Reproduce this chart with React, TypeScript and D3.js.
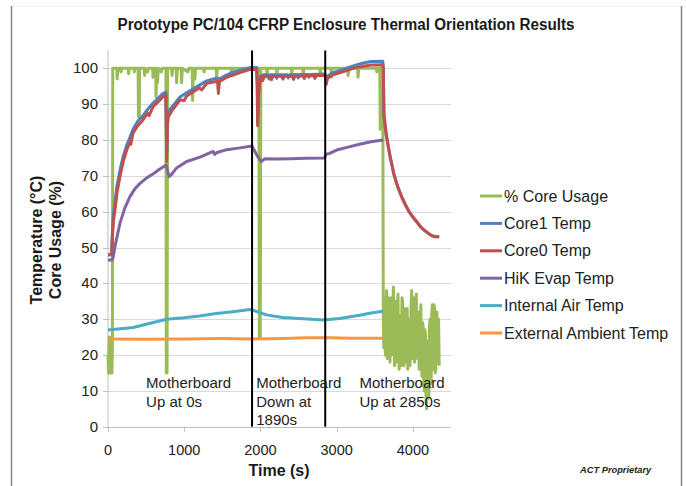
import React from "react";
import * as d3 from "d3";

type Pt = [number, number];

const chartTitle = "Prototype PC/104 CFRP Enclosure Thermal Orientation Results";
const yTitleLines = ["Temperature (°C)", "Core Usage (%)"];
const xTitle = "Time (s)";
const yTicks = [0, 10, 20, 30, 40, 50, 60, 70, 80, 90, 100];
const xTicks = [0, 1000, 2000, 3000, 4000];
const eventTimes = [1890, 2850];
const annotations = [
  { t: 500, lines: ["Motherboard", "Up at 0s"] },
  { t: 1945, lines: ["Motherboard", "Down at", "1890s"] },
  { t: 3300, lines: ["Motherboard", "Up at 2850s"] },
];

const coreUsage: Pt[] = [
  [0, 20], [8, 15], [15, 25], [22, 15], [30, 24], [38, 15], [45, 25], [52, 15], [58, 22], [62, 100],
  [115, 100], [120, 97], [130, 100], [165, 100], [170, 99], [180, 100], [265, 100], [270, 98.5], [280, 100],
  [340, 100], [345, 99], [355, 100], [395, 100], [400, 86.5], [410, 86.5], [415, 100], [475, 100], [480, 98],
  [490, 100], [520, 99], [530, 100], [585, 100], [590, 97.5], [600, 100], [625, 100], [630, 92], [640, 100],
  [650, 96], [660, 100], [700, 99], [710, 100], [760, 100], [765, 15], [775, 15], [782, 100], [835, 100],
  [840, 98], [850, 100], [895, 100], [900, 96], [910, 100], [960, 100], [965, 96], [975, 100], [1050, 99],
  [1060, 100], [1105, 100], [1110, 91], [1120, 100], [1140, 97], [1150, 100], [1255, 100], [1260, 99],
  [1270, 100], [1420, 100], [1425, 97], [1435, 100], [1615, 100], [1620, 98], [1630, 100], [1980, 100],
  [1985, 25], [1998, 25], [2005, 100], [2080, 100], [2085, 97.5], [2095, 100], [2210, 100], [2215, 98.5],
  [2225, 100], [2405, 100], [2410, 98.5], [2420, 100], [2555, 100], [2560, 98], [2570, 100], [2780, 100],
  [2785, 98], [2795, 100], [2925, 100], [2930, 97.5], [2940, 100], [3145, 100], [3150, 98], [3160, 100],
  [3275, 100], [3280, 97.5], [3290, 100], [3520, 100], [3526, 99], [3535, 100], [3565, 100], [3572, 83],
  [3580, 100], [3605, 100],
  [3612, 30], [3618, 22], [3625, 35], [3632, 24], [3640, 20], [3647, 33], [3655, 38], [3662, 19],
  [3670, 22], [3677, 36], [3685, 33], [3692, 21], [3700, 18], [3707, 31], [3715, 36], [3722, 20],
  [3730, 25], [3737, 34], [3745, 39], [3752, 24], [3760, 17], [3767, 35], [3775, 30], [3782, 18],
  [3790, 20], [3797, 32], [3805, 37], [3812, 22], [3820, 16], [3827, 31], [3835, 28], [3842, 17],
  [3850, 22], [3857, 36], [3865, 35], [3872, 19], [3880, 17], [3887, 33], [3895, 30], [3902, 18],
  [3910, 20], [3917, 31], [3925, 33], [3932, 16], [3940, 18], [3947, 30], [3955, 27], [3962, 17],
  [3970, 21], [3977, 35], [3985, 38], [3992, 20], [4000, 19], [4007, 34], [4015, 36], [4022, 18],
  [4030, 24], [4037, 35], [4045, 37], [4052, 21], [4060, 19], [4067, 32], [4075, 30], [4082, 16],
  [4090, 22], [4097, 31], [4105, 34], [4112, 18], [4120, 14], [4127, 29], [4135, 28], [4142, 12],
  [4150, 10], [4157, 27], [4165, 26], [4172, 9], [4180, 5], [4187, 24], [4195, 22], [4202, 10],
  [4210, 8], [4217, 28], [4225, 30], [4232, 14], [4240, 12], [4247, 31], [4255, 34], [4262, 16],
  [4270, 18], [4277, 34], [4285, 33], [4292, 15], [4300, 16], [4307, 30], [4315, 32], [4322, 18],
  [4330, 20], [4337, 30], [4345, 17],
];

const core1Temp: Pt[] = [
  [0, 48], [48, 48], [55, 53], [70, 59], [92, 63], [120, 67.5], [157, 71.5], [200, 75.5], [245, 78.5],
  [290, 80.8], [328, 83], [390, 85.2], [459, 86.8], [520, 88.5], [591, 90.3], [650, 91.5], [722, 93],
  [760, 93.3], [770, 76], [780, 86], [792, 88], [850, 89.5], [945, 92], [1030, 93.2], [1120, 94.3],
  [1200, 95.3], [1295, 96.5], [1380, 97], [1440, 97.2], [1448, 94], [1460, 97], [1558, 98.2], [1650, 99],
  [1732, 99.5], [1864, 100.2], [1950, 100.2], [1958, 96], [1963, 85], [1975, 93], [1990, 96.5], [2010, 98],
  [2020, 96.5], [2040, 98.2], [2100, 98.2], [2115, 97], [2130, 98.2], [2200, 98.2], [2215, 97.2],
  [2230, 98.2], [2350, 98.2], [2365, 97.3], [2380, 98.2], [2480, 98.3], [2495, 97.3], [2510, 98.3],
  [2620, 98.3], [2635, 97.5], [2650, 98.3], [2850, 98.4], [2862, 96], [2880, 97.8], [2950, 98.8],
  [3050, 99.4], [3150, 100.2], [3250, 100.9], [3350, 101.5], [3450, 101.9], [3605, 102], [3612, 100],
  [3620, 87], [3650, 81.5], [3700, 75.5], [3750, 70.5], [3800, 67], [3850, 64.3], [3900, 62], [3950, 60],
  [4000, 58.5], [4050, 57.2], [4100, 55.8], [4150, 54.8], [4200, 54], [4250, 53.3], [4300, 53], [4345, 53],
];

const core0Temp: Pt[] = [
  [0, 48], [48, 48], [55, 52], [70, 57], [92, 60.5], [120, 65.5], [157, 69.8], [200, 74], [245, 77.2],
  [290, 79.5], [300, 78.8], [328, 81.9], [390, 84], [459, 85.6], [520, 87.5], [540, 86.8], [591, 89.3],
  [650, 90.5], [722, 92.1], [760, 92.5], [770, 74], [780, 84], [792, 86.5], [850, 88.5], [945, 91.2],
  [1000, 91], [1030, 92.3], [1120, 93.5], [1200, 94.5], [1230, 94], [1295, 95.8], [1380, 96.2],
  [1440, 96.4], [1448, 93], [1460, 96.3], [1558, 97.5], [1650, 98.2], [1732, 98.8], [1864, 99.7],
  [1950, 99.7], [1958, 95], [1963, 84], [1975, 92], [1990, 96], [2010, 97.6], [2030, 96.6], [2050, 97.8],
  [2130, 97.8], [2145, 96.8], [2160, 97.8], [2280, 97.8], [2295, 97], [2310, 97.8], [2420, 97.8],
  [2435, 96.9], [2450, 97.8], [2560, 97.9], [2575, 97.2], [2590, 97.9], [2700, 98], [2715, 97.2],
  [2730, 98], [2850, 98], [2862, 95.5], [2880, 97.2], [2950, 98.2], [3050, 98.8], [3150, 99.5],
  [3250, 100.2], [3350, 100.6], [3450, 100.9], [3605, 101], [3612, 100], [3620, 87], [3650, 81.5],
  [3700, 75.5], [3750, 70.5], [3800, 67], [3850, 64.3], [3900, 62], [3950, 60], [4000, 58.5],
  [4050, 57.2], [4100, 55.8], [4150, 54.8], [4200, 54], [4250, 53.3], [4300, 53], [4345, 53],
];

const hikEvapTemp: Pt[] = [
  [0, 46.5], [55, 46.5], [70, 47.5], [92, 50.3], [157, 56.8], [220, 61], [288, 64.2], [350, 66.3],
  [420, 67.9], [500, 69.3], [595, 70.6], [680, 71.9], [765, 73], [800, 69.8], [830, 70.3], [900, 72.2],
  [1033, 74], [1207, 75.2], [1380, 76.8], [1400, 76], [1430, 76.5], [1558, 77.3], [1732, 77.8],
  [1890, 78.3], [1960, 75.5], [2010, 74], [2060, 74.8], [2200, 74.7], [2400, 74.8], [2600, 74.9],
  [2840, 75], [2860, 76], [2900, 76.2], [3000, 77.2], [3150, 78], [3300, 78.8], [3450, 79.5], [3610, 80],
];

const internalAirTemp: Pt[] = [
  [0, 27], [100, 27.2], [330, 27.7], [500, 28.6], [770, 30], [1000, 30.4], [1200, 30.9], [1420, 31.6],
  [1640, 32.1], [1860, 32.7], [1890, 32.6], [2080, 31.2], [2290, 30.5], [2510, 30.2], [2820, 29.8],
  [3040, 30.2], [3300, 31.1], [3450, 31.7], [3610, 32.2],
];

const externalAmbientTemp: Pt[] = [
  [0, 24.5], [500, 24.4], [1000, 24.5], [1500, 24.6], [1900, 24.5], [2300, 24.6], [2600, 24.8],
  [2900, 24.8], [3200, 24.7], [3610, 24.7],
];

const seriesNames = ["% Core Usage", "Core1 Temp", "Core0 Temp", "HiK Evap Temp", "Internal Air Temp", "External Ambient Temp"];
const seriesData = [coreUsage, core1Temp, core0Temp, hikEvapTemp, internalAirTemp, externalAmbientTemp];
const seriesColors = ["#9BBB59", "#4F81BD", "#C0504D", "#8064A2", "#4BACC6", "#F79646"];

const FONT = "'Liberation Sans', Arial, sans-serif";

export default function App() {
  const W = 686, H = 486;
  const x = d3.scaleLinear().domain([0, 4500]).range([108, 451]);
  const y = d3.scaleLinear().domain([0, 105]).range([426.7, 50.4]);
  const line = d3.line<Pt>().x((d) => x(d[0])).y((d) => y(d[1]));

  return (
    <div style={{ position: "absolute", left: 0, top: 0 }}>
      <svg width={W} height={H} style={{ display: "block", background: "#fff" }} fontFamily={FONT}>
        <rect x={0} y={0} width={W} height={H} fill="#fff" />
        {/* frame */}
        <line x1={11.5} x2={681.5} y1={6.5} y2={6.5} stroke="#f0f0f0" strokeWidth={1} />
        <line x1={11.5} x2={11.5} y1={6} y2={H} stroke="#868686" strokeWidth={1.5} />
        <line x1={681.5} x2={681.5} y1={6} y2={H} stroke="#868686" strokeWidth={1.5} />

        <text x={346} y={30} textAnchor="middle" fontWeight="bold" fontSize={16} fill="#1a1a1a"
          textLength={457} lengthAdjust="spacingAndGlyphs">{chartTitle}</text>

        {/* gridlines */}
        {yTicks.filter((v) => v > 0).map((v) => (
          <line key={"g" + v} x1={x(0)} x2={x(4500)} y1={Math.round(y(v)) + 0.5} y2={Math.round(y(v)) + 0.5} stroke="#D9D9D9" strokeWidth={1} />
        ))}
        {/* axes */}
        <line x1={x(0)} x2={x(0)} y1={y(105)} y2={y(0) + 0.5} stroke="#BFBFBF" strokeWidth={1} />
        <line x1={x(0) - 5} x2={x(4500)} y1={Math.round(y(0)) + 0.5} y2={Math.round(y(0)) + 0.5} stroke="#BFBFBF" strokeWidth={1} />
        {yTicks.map((v) => (
          <g key={"yt" + v}>
            <line x1={x(0) - 5} x2={x(0)} y1={Math.round(y(v)) + 0.5} y2={Math.round(y(v)) + 0.5} stroke="#BFBFBF" />
            <text x={98} y={y(v) + 5} textAnchor="end" fontSize={15} fill="#222">{v}</text>
          </g>
        ))}
        {xTicks.map((v) => (
          <g key={"xt" + v}>
            <line x1={Math.round(x(v)) + 0.5} x2={Math.round(x(v)) + 0.5} y1={y(0)} y2={y(0) + 5} stroke="#BFBFBF" />
            <text x={x(v)} y={455} textAnchor="middle" fontSize={14.5} fill="#222">{v}</text>
          </g>
        ))}

        {/* series */}
        {seriesData.map((d, i) => (
          <path key={"s" + i} d={line(d) || ""} fill="none" stroke={seriesColors[i]} strokeWidth={3}
            strokeLinejoin="round" strokeLinecap="butt" />
        ))}

        {/* event lines */}
        {eventTimes.map((t) => (
          <line key={"e" + t} x1={x(t)} x2={x(t)} y1={y(105)} y2={y(0)} stroke="#000" strokeWidth={2} />
        ))}

        {/* annotations */}
        {annotations.map((a, i) => (
          <text key={"a" + i} x={x(a.t)} y={388} fontSize={15} fill="#222">
            {a.lines.map((l, j) => (
              <tspan key={j} x={x(a.t)} dy={j === 0 ? 0 : 18.5}>{l}</tspan>
            ))}
          </text>
        ))}

        {/* axis titles */}
        <g transform="translate(42,240) rotate(-90)">
          <text x={0} y={0} textAnchor="middle" fontWeight="bold" fontSize={16} fill="#1a1a1a">{yTitleLines[0]}</text>
          <text x={0} y={19} textAnchor="middle" fontWeight="bold" fontSize={16} fill="#1a1a1a">{yTitleLines[1]}</text>
        </g>
        <text x={279} y={476} textAnchor="middle" fontWeight="bold" fontSize={16} fill="#1a1a1a">{xTitle}</text>

        {/* legend */}
        {seriesNames.map((n, i) => {
          const cy = 196 + i * 27.4;
          return (
            <g key={"l" + i}>
              <line x1={480} x2={502} y1={cy} y2={cy} stroke={seriesColors[i]} strokeWidth={3} />
              <text x={504} y={cy + 5.5} fontSize={16} fill="#222">{n}</text>
            </g>
          );
        })}

        <text x={580} y={473} fontSize={9.3} fontWeight="bold" fontStyle="italic" fill="#222">ACT Proprietary</text>
      </svg>
    </div>
  );
}
